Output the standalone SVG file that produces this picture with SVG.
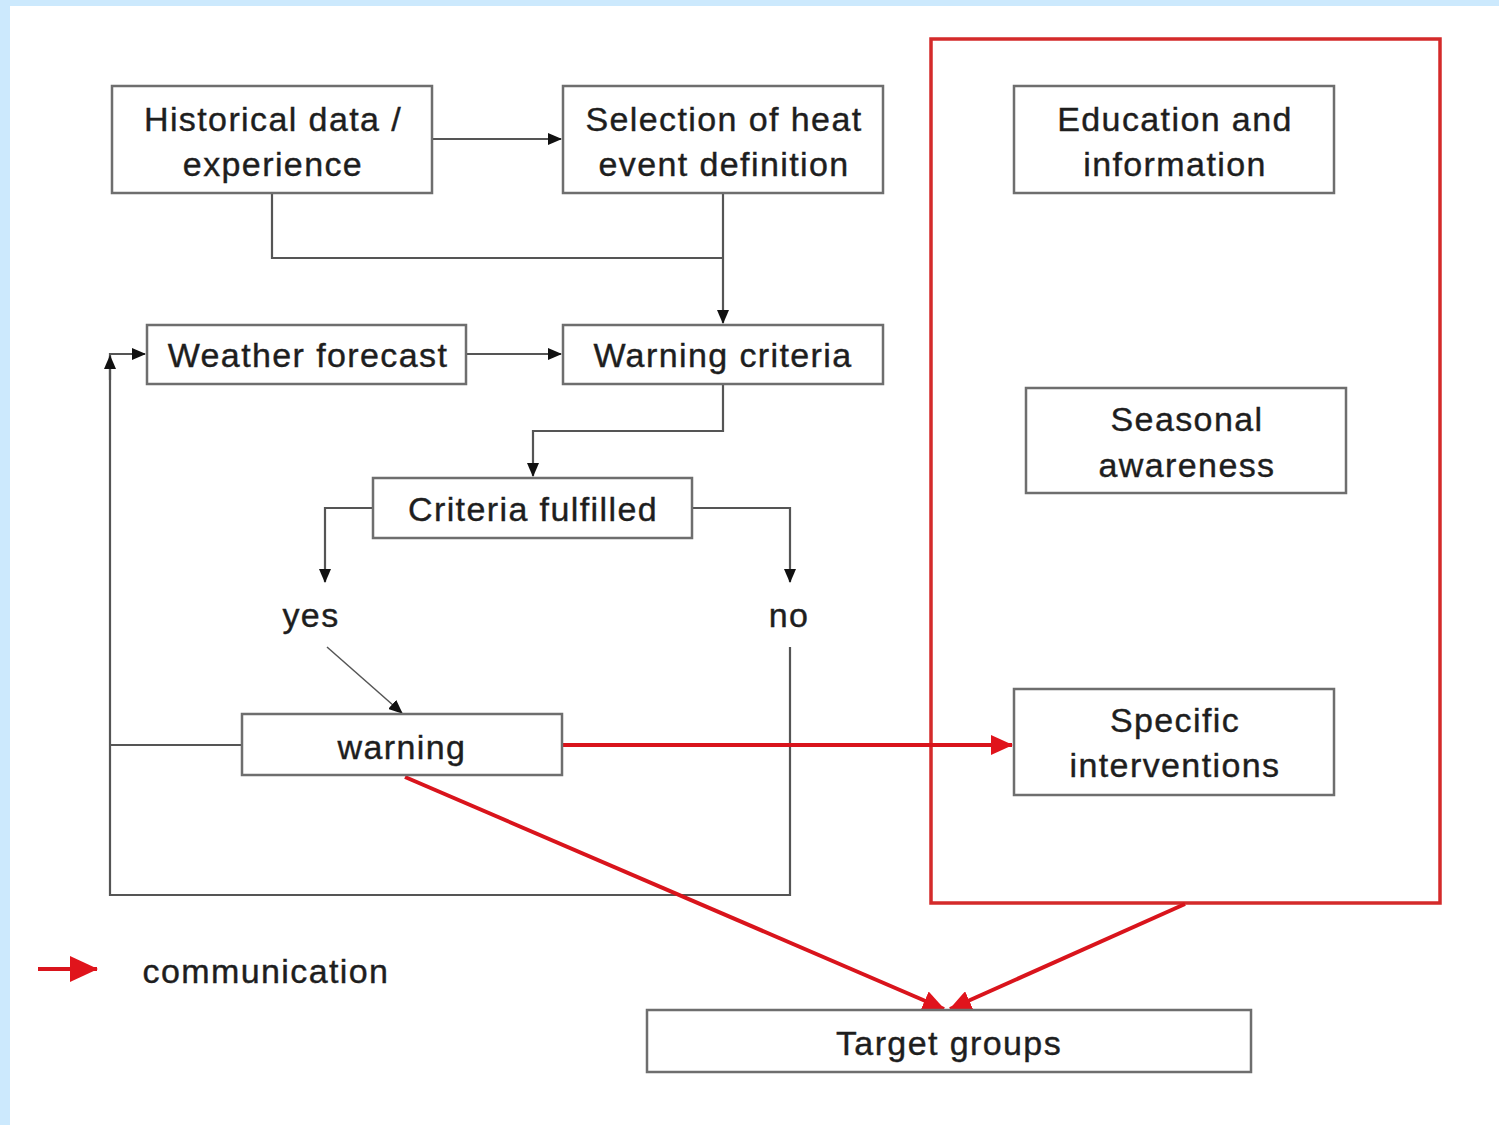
<svg xmlns="http://www.w3.org/2000/svg" width="1499" height="1125" viewBox="0 0 1499 1125">
<defs>
<marker id="ab" markerWidth="14" markerHeight="12" refX="13" refY="6" orient="auto" markerUnits="userSpaceOnUse"><path d="M0,0 L14,6 L0,12 Z" fill="#111"/></marker>
<marker id="ar" markerWidth="22" markerHeight="20" refX="21" refY="10" orient="auto" markerUnits="userSpaceOnUse"><path d="M0,0 L22,10 L0,20 Z" fill="#e0141c"/></marker>
<marker id="arl" markerWidth="28" markerHeight="26" refX="27" refY="13" orient="auto" markerUnits="userSpaceOnUse"><path d="M0,0 L28,13 L0,26 Z" fill="#e0141c"/></marker>
</defs>
<style>
.box{fill:#fff;stroke:#6e6e6e;stroke-width:2.5}
.t{font-family:"Liberation Sans",Arial,sans-serif;font-size:34px;letter-spacing:1.4px;fill:#1e1e1e;stroke:#1e1e1e;stroke-width:0.4;text-anchor:middle}
.c{fill:none;stroke:#555;stroke-width:2.2}
.r{fill:none;stroke:#d9141c;stroke-width:4}
</style>
<rect x="0" y="0" width="1499" height="1125" fill="#fff"/>
<rect x="0" y="0" width="1499" height="6" fill="#cce9fd"/>
<rect x="0" y="0" width="10" height="1125" fill="#cce9fd"/>
<rect x="931" y="39" width="509" height="864" fill="none" stroke="#d42a2a" stroke-width="3.5"/>
<g id="connectors">
<path class="c" d="M432,139 H561" marker-end="url(#ab)"/>
<path class="c" d="M272,193 V258 H723"/>
<path class="c" d="M723,193 V323" marker-end="url(#ab)"/>
<path class="c" d="M466,354 H561" marker-end="url(#ab)"/>
<path class="c" d="M723,384 V431 H533 V476" marker-end="url(#ab)"/>
<path class="c" d="M373,508 H325 V582" marker-end="url(#ab)"/>
<path class="c" d="M692,508 H790 V582" marker-end="url(#ab)"/>
<path class="c" style="stroke-width:1.5" d="M327,647 L402,713" marker-end="url(#ab)"/>
<path class="c" d="M790,647 V895 H110 V353"/>
<path class="c" d="M242,745 H110"/>
<path class="c" d="M110,380 V356" marker-end="url(#ab)"/>
<path class="c" d="M110,354 H145" marker-end="url(#ab)"/>
<path class="r" d="M562,745 H1012" marker-end="url(#ar)"/>
<path class="r" d="M405,777 L944,1009" marker-end="url(#ar)"/>
<path class="r" d="M1185,904 L950,1009" marker-end="url(#ar)"/>
<path class="r" d="M38,969 H97" marker-end="url(#arl)"/>
</g>
<g id="historical"><rect class="box" x="112" y="86" width="320" height="107"/><text class="t" x="273" y="131">Historical data /</text><text class="t" x="273" y="176">experience</text></g>
<g id="selection"><rect class="box" x="563" y="86" width="320" height="107"/><text class="t" x="724" y="131">Selection of heat</text><text class="t" x="724" y="176">event definition</text></g>
<g id="education"><rect class="box" x="1014" y="86" width="320" height="107"/><text class="t" x="1175" y="131">Education and</text><text class="t" x="1175" y="176">information</text></g>
<g id="weather"><rect class="box" x="147" y="325" width="319" height="59"/><text class="t" x="308" y="367">Weather forecast</text></g>
<g id="criteria"><rect class="box" x="563" y="325" width="320" height="59"/><text class="t" x="723" y="367">Warning criteria</text></g>
<g id="seasonal"><rect class="box" x="1026" y="388" width="320" height="105"/><text class="t" x="1187" y="431">Seasonal</text><text class="t" x="1187" y="477">awareness</text></g>
<g id="fulfilled"><rect class="box" x="373" y="478" width="319" height="60"/><text class="t" x="533" y="521">Criteria fulfilled</text></g>
<g id="yes"><text class="t" x="311" y="627">yes</text></g>
<g id="no"><text class="t" x="789" y="627">no</text></g>
<g id="warning"><rect class="box" x="242" y="714" width="320" height="61"/><text class="t" x="402" y="759">warning</text></g>
<g id="specific"><rect class="box" x="1014" y="689" width="320" height="106"/><text class="t" x="1175" y="732">Specific</text><text class="t" x="1175" y="777">interventions</text></g>
<g id="target"><rect class="box" x="647" y="1010" width="604" height="62"/><text class="t" x="949" y="1055">Target groups</text></g>
<g id="legend"><text class="t" x="266" y="983">communication</text></g>
</svg>
